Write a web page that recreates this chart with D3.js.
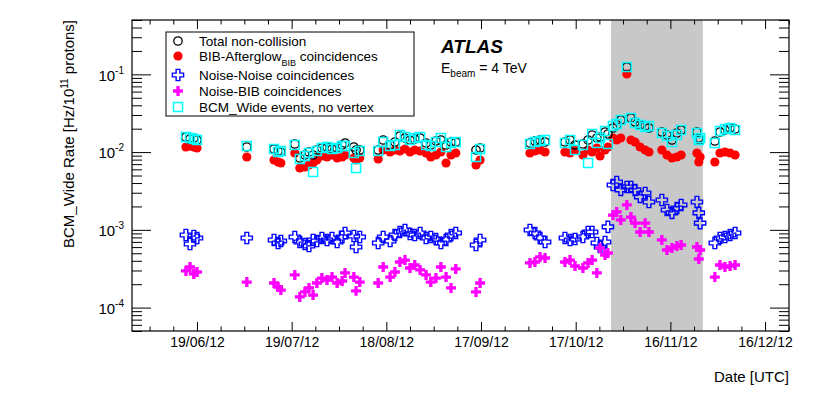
<!DOCTYPE html>
<html>
<head>
<meta charset="utf-8">
<script src="https://cdn.jsdelivr.net/npm/d3@7/dist/d3.min.js"></script>
<style>
    body {margin: 0; background: #fff;}
    text {font-family: "Liberation Sans", Arial, sans-serif;}
</style>
</head>
<body>
<svg id="chart" width="830" height="394"></svg>
<script>
// one entry per run, all five rates were measured for each run
const runDates = [
    "2012-06-15 12:00", "2012-06-16 19:00", "2012-06-18 00:00", "2012-06-19 00:00", "2012-07-04 19:00",
    "2012-07-13 10:00", "2012-07-14 17:00", "2012-07-15 14:00", "2012-07-20 00:00", "2012-07-21 14:00",
    "2012-07-23 05:00", "2012-07-24 12:00", "2012-07-25 19:00", "2012-07-27 00:00", "2012-07-28 14:00",
    "2012-07-30 05:00", "2012-07-31 19:00", "2012-08-02 10:00", "2012-08-04 00:00", "2012-08-04 22:00",
    "2012-08-07 17:00", "2012-08-08 10:00", "2012-08-09 14:00", "2012-08-15 10:00", "2012-08-17 00:00",
    "2012-08-19 05:00", "2012-08-20 17:00", "2012-08-22 07:00", "2012-08-23 22:00", "2012-08-25 12:00",
    "2012-08-27 00:00", "2012-08-28 17:00", "2012-08-30 14:00", "2012-09-01 02:00", "2012-09-02 17:00",
    "2012-09-04 07:00", "2012-09-05 22:00", "2012-09-07 12:00", "2012-09-09 00:00", "2012-09-15 10:00",
    "2012-09-16 17:00", "2012-10-02 12:00", "2012-10-04 02:00", "2012-10-05 17:00", "2012-10-07 07:00",
    "2012-10-13 14:00", "2012-10-15 05:00", "2012-10-16 19:00", "2012-10-19 07:00", "2012-10-20 22:00",
    "2012-10-22 05:00", "2012-10-23 17:00", "2012-10-24 17:00", "2012-10-26 07:00", "2012-10-27 05:00",
    "2012-10-28 19:00", "2012-10-30 00:00", "2012-10-31 07:00", "2012-11-02 05:00", "2012-11-03 12:00",
    "2012-11-04 19:00", "2012-11-06 10:00", "2012-11-08 00:00", "2012-11-09 05:00", "2012-11-13 07:00",
    "2012-11-14 22:00", "2012-11-16 12:00", "2012-11-18 02:00", "2012-11-19 10:00", "2012-11-24 10:00",
    "2012-11-25 00:00", "2012-11-25 10:00", "2012-11-30 02:00", "2012-12-01 17:00", "2012-12-03 07:00",
    "2012-12-04 22:00", "2012-12-06 12:00"
];

const totalRate = [
    0.01564, 0.01474, 0.01518, 0.01431, 0.01163, 0.01096, 0.01033, 0.01003, 0.01271, 0.0084,
    0.00918, 0.01003, 0.00918, 0.01064, 0.01129, 0.01163, 0.01096, 0.01129, 0.01234, 0.01309,
    0.01163, 0.01064, 0.01064, 0.01064, 0.01431, 0.01234, 0.01348, 0.01611, 0.01518, 0.01431,
    0.01474, 0.01518, 0.01309, 0.01234, 0.01389, 0.01431, 0.01234, 0.01348, 0.01348, 0.01064,
    0.01129, 0.01309, 0.01389, 0.01431, 0.01348, 0.01348, 0.01431, 0.01234, 0.01271, 0.01431,
    0.01659, 0.01518, 0.01564, 0.01813, 0.01709, 0.02041, 0.02231, 0.02587, 0.1243, 0.02745,
    0.02438, 0.02231, 0.02166, 0.02041, 0.01813, 0.01659, 0.01431, 0.0176, 0.01924, 0.01813,
    0.01518, 0.01431, 0.01389, 0.01813, 0.01924, 0.02041, 0.01982
];

const bibRate = [
    0.01163, 0.01198, 0.01163, 0.01129, 0.00865, 0.00791, 0.00746, 0.00724, 0.00974, 0.00624,
    0.00643, 0.00682, 0.00724, 0.00791, 0.00891, 0.00865, 0.00918, 0.0084, 0.00865, 0.00918,
    0.0084, 0.00791, 0.0084, 0.00815, 0.01064, 0.01003, 0.01064, 0.01033, 0.01096, 0.01003,
    0.01064, 0.01033, 0.00974, 0.00865, 0.00918, 0.01003, 0.00724, 0.00918, 0.00974, 0.00682,
    0.00791, 0.00974, 0.01033, 0.01064, 0.01003, 0.01003, 0.00974, 0.01064, 0.00918, 0.01064,
    0.01003, 0.01129, 0.00891, 0.01064, 0.01163, 0.01518, 0.01431, 0.01518, 0.101, 0.01431,
    0.01348, 0.01163, 0.01064, 0.01003, 0.01064, 0.00918, 0.0084, 0.00865, 0.00918, 0.00974,
    0.00746, 0.00865, 0.00746, 0.00974, 0.01003, 0.00974, 0.00918
];

const noiseNoiseRate = [
    0.000859, 0.000658, 0.000834, 0.000786, 0.000786, 0.000741, 0.000678, 0.000719, 0.000809, 0.000698,
    0.000658, 0.00062, 0.000741, 0.000719, 0.000786, 0.000741, 0.000786, 0.000698, 0.000809, 0.000911,
    0.000834, 0.000602, 0.000809, 0.000678, 0.000809, 0.000719, 0.000859, 0.000939, 0.000996, 0.000884,
    0.000859, 0.000911, 0.000786, 0.000809, 0.000763, 0.000678, 0.000741, 0.000859, 0.000911, 0.000639,
    0.000741, 0.000996, 0.000911, 0.000786, 0.000698, 0.000786, 0.000741, 0.000763, 0.000809, 0.000939,
    0.000939, 0.000678, 0.000602, 0.000698, 0.00109, 0.00377, 0.00412, 0.00326, 0.00356, 0.00356,
    0.00326, 0.00265, 0.00298, 0.00228, 0.00242, 0.0018, 0.00165, 0.00191, 0.00209, 0.00228,
    0.00165, 0.00122, 0.000678, 0.000786, 0.000809, 0.000859, 0.000911
];

const noiseBibRate = [
    0.000296, 0.000333, 0.000271, 0.000287, 0.000213, 0.000207, 0.000184, 0.000168, 0.000263, 0.000137,
    0.000159, 0.000179, 0.000145, 0.000207, 0.00024, 0.000226, 0.000247, 0.000207, 0.00022, 0.000279,
    0.000247, 0.000164, 0.000213, 0.000207, 0.000333, 0.000247, 0.000287, 0.000386, 0.000409, 0.000323,
    0.000353, 0.000305, 0.000263, 0.000213, 0.00024, 0.000333, 0.000247, 0.000179, 0.000314, 0.000159,
    0.000207, 0.000375, 0.000386, 0.000448, 0.000434, 0.000386, 0.000409, 0.000343, 0.000323, 0.000375,
    0.000409, 0.000279, 0.000584, 0.000475, 0.000504, 0.00155, 0.0017, 0.00134, 0.00209, 0.00146,
    0.00122, 0.000939, 0.00122, 0.000939, 0.000741, 0.000551, 0.000584, 0.00062, 0.000639, 0.000602,
    0.000422, 0.000551, 0.000247, 0.000353, 0.000333, 0.000343, 0.000353
];

const noVertexRate = [
    0.01564, 0.01518, 0.01474, 0.01431, 0.01198, 0.01096, 0.01003, 0.01033, 0.01234, 0.00815,
    0.00891, 0.00974, 0.00555, 0.01033, 0.01129, 0.01163, 0.01096, 0.01129, 0.01198, 0.01198,
    0.00974, 0.00624, 0.01033, 0.01033, 0.01348, 0.01198, 0.01234, 0.01659, 0.01564, 0.01431,
    0.01518, 0.01564, 0.01234, 0.01198, 0.01348, 0.01518, 0.01163, 0.01309, 0.01348, 0.00865,
    0.01096, 0.01271, 0.01348, 0.01389, 0.01431, 0.01309, 0.01431, 0.01064, 0.01234, 0.00724,
    0.01709, 0.01309, 0.01518, 0.01868, 0.01271, 0.02166, 0.02298, 0.02587, 0.1243, 0.02745,
    0.02367, 0.02231, 0.02102, 0.02166, 0.0176, 0.01611, 0.01348, 0.01659, 0.01924, 0.0176,
    0.01431, 0.01518, 0.01309, 0.01868, 0.01982, 0.02041, 0.01924
];

const dateRange = ["2012-05-29 10:00", "2012-12-23 14:00"];
const firstLabelDate = "2012-06-19 00:00";
const shadedRange = ["2012-10-28 05:00", "2012-11-26 07:00"];
const yRange = [5e-5, 0.5];
const yDecades = [1e-4, 1e-3, 1e-2, 1e-1];

const legendLabels = ["Total non-collision", "BIB-Afterglow", "Noise-Noise coincidences",
    "Noise-BIB coincidences", "BCM_Wide events, no vertex"];

let svg = d3.select("#chart"),
    parse = d3.utcParse("%Y-%m-%d %H:%M"),
    plot = {left: 132, right: 789, top: 20, bottom: 331};

let x = d3.scaleUtc().domain(dateRange.map(parse)).range([plot.left, plot.right]);
let y = d3.scaleLog().domain(yRange).range([plot.bottom, plot.top]);

// ROOT style time axis: label every 30 days, minor tick every 7.5 days
let majorDates = [], minorDates = [];
for (let i = -4; i <= 30; i++) {
    let t = d3.utcHour.offset(parse(firstLabelDate), i * 180);
    if (t < x.domain()[0] || t > x.domain()[1]) continue;
    if (i % 4 === 0) majorDates.push(t); else minorDates.push(t);
}

let minorY = [];
for (let e = -5; e <= -1; e++) {
    for (let k = 2; k <= 9; k++) {
        let v = k * Math.pow(10, e);
        if (v >= yRange[0] && v <= yRange[1]) minorY.push(v);
    }
}

// shaded period
svg.append("rect")
    .attr("x", x(parse(shadedRange[0])))
    .attr("y", plot.top)
    .attr("width", x(parse(shadedRange[1])) - x(parse(shadedRange[0])))
    .attr("height", plot.bottom - plot.top)
    .attr("fill", "#c8c8c8");

// markers
let series = [
    {values: bibRate, kind: "dot", color: "#ff0000"},
    {values: totalRate, kind: "ring", color: "#000"},
    {values: noVertexRate, kind: "square", color: "#00ffff"},
    {values: noiseNoiseRate, kind: "opencross", color: "#0000ff"},
    {values: noiseBibRate, kind: "cross", color: "#ff00ff"}
];

let crossPath = d3.symbol().type(d3.symbolCross);

function drawMarker(sel, kind, color) {
    if (kind === "dot") {
        sel.append("circle").attr("r", 4.6).attr("fill", color);
    } else if (kind === "ring") {
        sel.append("circle").attr("r", 4.2).attr("fill", "none").attr("stroke", color).attr("stroke-width", 1.3);
    } else if (kind === "square") {
        sel.append("rect").attr("x", -4.5).attr("y", -4.5).attr("width", 9).attr("height", 9)
            .attr("fill", "none").attr("stroke", color).attr("stroke-width", 1.5);
    } else if (kind === "opencross") {
        sel.append("path").attr("d", crossPath.size(70)()).attr("fill", "none")
            .attr("stroke", color).attr("stroke-width", 1.4);
    } else {
        sel.append("path").attr("d", crossPath.size(55)()).attr("fill", color);
    }
}

let gPoints = svg.append("g");
series.forEach(s => {
    let pts = gPoints.append("g").selectAll("g")
        .data(runDates.map((d, i) => ({date: parse(d), value: s.values[i]})))
        .join("g")
        .attr("transform", d => `translate(${x(d.date)},${y(d.value)})`);
    drawMarker(pts, s.kind, s.color);
});

// axes, ticks pointing inward
function styleAxis(g) {
    g.select(".domain").remove();
    g.selectAll(".tick line").attr("stroke", "#000").attr("stroke-width", 1);
}

let fmt = d3.utcFormat("%d/%m/%y");
svg.append("g").attr("transform", `translate(0,${plot.bottom})`)
    .call(d3.axisBottom(x).tickValues(majorDates).tickFormat(fmt).tickSize(-9).tickPadding(6))
    .call(styleAxis)
    .call(g => g.selectAll("text").attr("font-size", 14).attr("fill", "#000"));
svg.append("g").attr("transform", `translate(0,${plot.bottom})`)
    .call(d3.axisBottom(x).tickValues(minorDates).tickFormat("").tickSize(-4.5))
    .call(styleAxis);
svg.append("g").attr("transform", `translate(0,${plot.top})`)
    .call(d3.axisTop(x).tickValues(majorDates).tickFormat("").tickSize(-9))
    .call(styleAxis);
svg.append("g").attr("transform", `translate(0,${plot.top})`)
    .call(d3.axisTop(x).tickValues(minorDates).tickFormat("").tickSize(-4.5))
    .call(styleAxis);

svg.append("g").attr("transform", `translate(${plot.left},0)`)
    .call(d3.axisLeft(y).tickValues(yDecades).tickSize(-19).tickPadding(8))
    .call(styleAxis)
    .call(g => g.selectAll(".tick text").text(null)
        .attr("font-size", 15).attr("fill", "#000").attr("dy", "0.38em")
        .call(t => {
            t.append("tspan").text("10");
            t.append("tspan").attr("dy", -7).attr("font-size", 10)
                .text(d => Math.round(Math.log10(d)));
        }));
svg.append("g").attr("transform", `translate(${plot.left},0)`)
    .call(d3.axisLeft(y).tickValues(minorY).tickFormat("").tickSize(-10))
    .call(styleAxis);
svg.append("g").attr("transform", `translate(${plot.right},0)`)
    .call(d3.axisRight(y).tickValues(yDecades).tickFormat("").tickSize(-19))
    .call(styleAxis);
svg.append("g").attr("transform", `translate(${plot.right},0)`)
    .call(d3.axisRight(y).tickValues(minorY).tickFormat("").tickSize(-10))
    .call(styleAxis);

svg.append("rect")
    .attr("x", plot.left).attr("y", plot.top)
    .attr("width", plot.right - plot.left).attr("height", plot.bottom - plot.top)
    .attr("fill", "none").attr("stroke", "#000").attr("stroke-width", 1.2);

// axis titles
svg.append("text")
    .attr("x", plot.right).attr("y", 382)
    .attr("text-anchor", "end").attr("font-size", 15)
    .text("Date [UTC]");

let yTitle = svg.append("text")
    .attr("transform", `translate(74,${plot.top}) rotate(-90)`)
    .attr("text-anchor", "end").attr("font-size", 15);
yTitle.append("tspan").text("BCM_Wide Rate [Hz/10");
yTitle.append("tspan").attr("dy", -6).attr("font-size", 10).text("11");
yTitle.append("tspan").attr("dy", 6).text(" protons]");

// legend
let legend = svg.append("g");
legend.append("rect")
    .attr("x", 166).attr("y", 32).attr("width", 248).attr("height", 84)
    .attr("fill", "#fff").attr("stroke", "#000").attr("stroke-width", 1);

let legendKinds = [series[1], series[0], series[3], series[4], series[2]];
let rowY = [41, 56, 75, 91, 107];
legendLabels.forEach((label, i) => {
    let row = legend.append("g").attr("transform", `translate(178,${rowY[i]})`);
    drawMarker(row, legendKinds[i].kind, legendKinds[i].color);
    let t = row.append("text").attr("x", 21).attr("dy", "0.36em").attr("font-size", 13.5).text(label);
    if (i === 1) {
        t.append("tspan").attr("dy", 5).attr("font-size", 9).text("BIB");
        t.append("tspan").attr("dy", -5).text(" coincidences");
    }
});

// experiment label
svg.append("text")
    .attr("x", 441).attr("y", 53)
    .attr("font-size", 19).attr("font-weight", "bold").attr("font-style", "italic")
    .text("ATLAS");
let beam = svg.append("text").attr("x", 441).attr("y", 73).attr("font-size", 14);
beam.append("tspan").text("E");
beam.append("tspan").attr("dy", 4).attr("font-size", 10).text("beam");
beam.append("tspan").attr("dy", -4).text(" = 4 TeV");
</script>
</body>
</html>
